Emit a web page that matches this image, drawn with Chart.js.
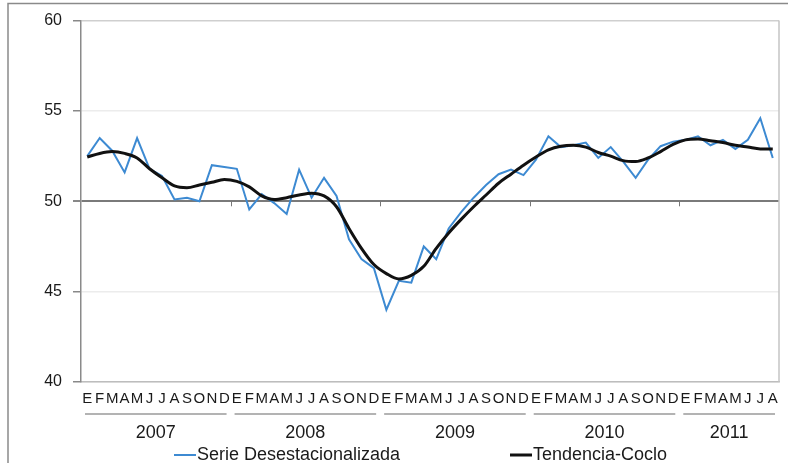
<!DOCTYPE html>
<html>
<head>
<meta charset="utf-8">
<script src="https://cdn.jsdelivr.net/npm/chart.js@4.4.1/dist/chart.umd.min.js"></script>
<style>
  html, body { margin: 0; padding: 0; background: #fff; }
  #wrap { width: 788px; height: 463px; }
</style>
</head>
<body>
<div id="wrap"><canvas id="chart" width="788" height="463"></canvas></div>
<script>
// Month letters (Spanish initials) and years
const monthLetters = ['E', 'F', 'M', 'A', 'M', 'J', 'J', 'A', 'S', 'O', 'N', 'D'];
const years = ['2007', '2008', '2009', '2010', '2011'];
const monthsPerYear = [12, 12, 12, 12, 8];

// Serie Desestacionalizada, Jan 2007 - Aug 2011
const serieDesest = [
    52.5, 53.5, 52.8, 51.6, 53.5, 51.8, 51.4, 50.1, 50.2, 50.0, 52.0, 51.9,
    51.8, 49.55, 50.4, 49.9, 49.3, 51.75, 50.2, 51.3, 50.3, 47.9, 46.8, 46.3,
    44.0, 45.6, 45.5, 47.5, 46.8, 48.5, 49.4, 50.2, 50.9, 51.5, 51.75, 51.45,
    52.3, 53.6, 53.0, 53.1, 53.25, 52.4, 53.0, 52.2, 51.3, 52.3, 53.05, 53.3,
    53.4, 53.6, 53.1, 53.4, 52.9, 53.4, 54.6, 52.4
];

// Tendencia-Ciclo
const tendencia = [
    52.45, 52.65, 52.75, 52.65, 52.4, 51.8, 51.3, 50.85, 50.75, 50.9, 51.05, 51.2,
    51.1, 50.8, 50.3, 50.1, 50.2, 50.35, 50.45, 50.3, 49.7, 48.5, 47.4, 46.5,
    46.0, 45.7, 45.9, 46.4, 47.4, 48.25, 49.0, 49.7, 50.35, 51.0, 51.5, 52.0,
    52.45, 52.85, 53.05, 53.1, 53.0, 52.7, 52.5, 52.25, 52.2, 52.4, 52.75, 53.15,
    53.4, 53.45, 53.35, 53.25, 53.1, 53.0, 52.9, 52.9
];

const yTicks = [40, 45, 50, 55, 60];

const labels = [];
monthsPerYear.forEach(function(n) {
    for (let i = 0; i < n; i++) labels.push(monthLetters[i]);
});

const FONT = 'Arial, "Liberation Sans", sans-serif';

// Draws the frame, year groups, separators and the legend
const extrasPlugin = {
    id: 'extras',
    beforeDraw: function(chart) {
        const c = chart.ctx;
        c.save();
        c.strokeStyle = '#8a8a8a';
        c.lineWidth = 1.5;
        c.beginPath();
        c.moveTo(8, 463);
        c.lineTo(8, 3.5);
        c.lineTo(788, 3.5);
        c.stroke();
        c.restore();
    },
    afterDraw: function(chart) {
        const c = chart.ctx;
        const x = chart.scales.x;
        const y = chart.scales.y;
        const area = chart.chartArea;
        const step = x.getPixelForValue(1) - x.getPixelForValue(0);
        c.save();

        // right border of plot area
        c.strokeStyle = '#c4c4c4';
        c.lineWidth = 1.5;
        c.beginPath();
        c.moveTo(area.right, area.top);
        c.lineTo(area.right, area.bottom);
        c.stroke();

        // year tick marks on the 50 line
        const y50 = y.getPixelForValue(50);
        c.strokeStyle = '#777';
        c.lineWidth = 1;
        let idx = 0;
        monthsPerYear.forEach(function(n, k) {
            idx += n;
            if (k < monthsPerYear.length - 1) {
                const px = Math.round(x.getPixelForValue(idx - 1) + step / 2) + 0.5;
                c.beginPath();
                c.moveTo(px, y50);
                c.lineTo(px, y50 + 5);
                c.stroke();
            }
        });

        // year group lines and labels
        let start = 0;
        c.font = '18px ' + FONT;
        c.fillStyle = '#1a1a1a';
        c.textAlign = 'center';
        c.textBaseline = 'middle';
        monthsPerYear.forEach(function(n, k) {
            const left = x.getPixelForValue(start) - step / 2 + 4;
            const right = x.getPixelForValue(start + n - 1) + step / 2 - 4;
            c.strokeStyle = '#9a9a9a';
            c.lineWidth = 1.5;
            c.beginPath();
            c.moveTo(left, 414);
            c.lineTo(right, 414);
            c.stroke();
            c.fillText(years[k], (left + right) / 2, 433);
            start += n;
        });

        // legend
        c.font = '18px ' + FONT;
        c.textAlign = 'left';
        const items = [
            { x: 174, ds: chart.data.datasets[0] },
            { x: 510, ds: chart.data.datasets[1] }
        ];
        items.forEach(function(it) {
            c.strokeStyle = it.ds.borderColor;
            c.lineWidth = it.ds.borderWidth;
            c.beginPath();
            c.moveTo(it.x, 455);
            c.lineTo(it.x + 22, 455);
            c.stroke();
            c.fillStyle = '#1a1a1a';
            c.fillText(it.ds.label, it.x + 23, 455);
        });
        c.restore();
    }
};

new Chart(document.getElementById('chart').getContext('2d'), {
    type: 'line',
    data: {
        labels: labels,
        datasets: [
            {
                label: 'Serie Desestacionalizada',
                data: serieDesest,
                borderColor: '#3d8ad2',
                borderWidth: 2,
                pointRadius: 0,
                tension: 0,
                fill: false,
                order: 1
            },
            {
                label: 'Tendencia-Coclo',
                data: tendencia,
                borderColor: '#111111',
                borderWidth: 3,
                pointRadius: 0,
                tension: 0.4,
                cubicInterpolationMode: 'monotone',
                fill: false,
                order: 0
            }
        ]
    },
    options: {
        responsive: false,
        animation: false,
        layout: { padding: { left: 0, top: 18, right: 9, bottom: 0 } },
        plugins: {
            legend: { display: false },
            tooltip: { enabled: false }
        },
        scales: {
            x: {
                offset: true,
                grid: { display: false, drawTicks: false },
                border: { color: '#bdbdbd', width: 1.5 },
                ticks: {
                    autoSkip: false,
                    maxRotation: 0,
                    minRotation: 0,
                    padding: 8,
                    color: '#1a1a1a',
                    font: { family: FONT, size: 15 }
                },
                afterFit: function(s) { s.height = 81; }
            },
            y: {
                min: 40,
                max: 60,
                afterBuildTicks: function(s) {
                    s.ticks = yTicks.map(function(v) { return { value: v }; });
                },
                grid: {
                    color: function(ctx) {
                        const v = ctx.tick && ctx.tick.value;
                        if (v === 50) return '#7a7a7a';
                        if (v === 60) return '#cfcfcf';
                        return '#ececec';
                    },
                    lineWidth: function(ctx) {
                        return ctx.tick && ctx.tick.value === 50 ? 2 : 1.5;
                    },
                    tickColor: '#888',
                    tickLength: 8
                },
                border: { color: '#8a8a8a', width: 1.5 },
                ticks: {
                    padding: 11,
                    color: '#1a1a1a',
                    font: { family: FONT, size: 16 }
                },
                afterFit: function(s) { s.width = 81; }
            }
        }
    },
    plugins: [extrasPlugin]
});
</script>
</body>
</html>
